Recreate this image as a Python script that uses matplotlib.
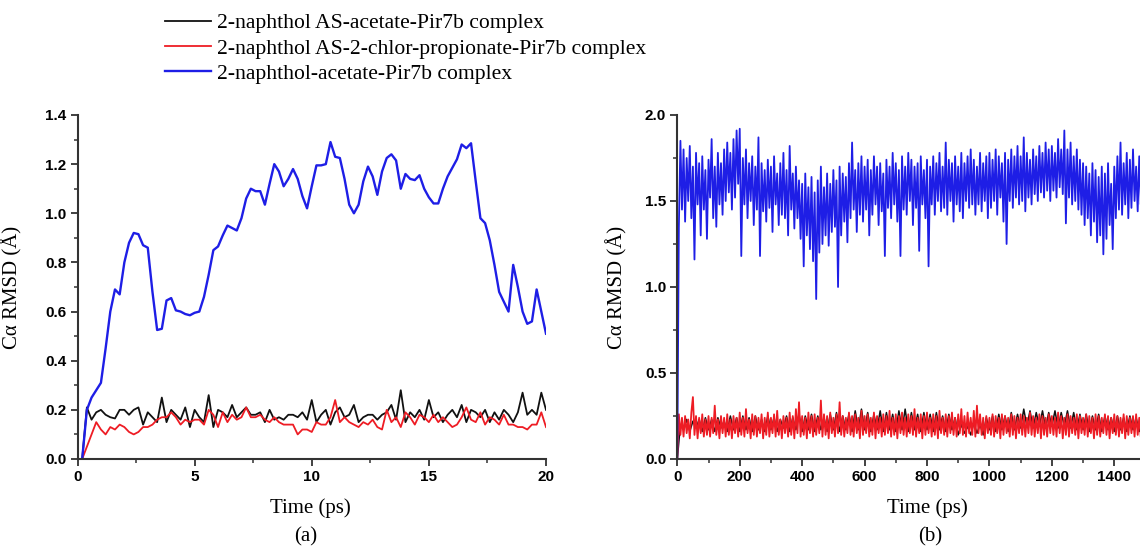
import numpy as np
import matplotlib
matplotlib.use("Agg")
import matplotlib.pyplot as plt
from matplotlib.ticker import MultipleLocator

# ---------------- data ----------------
labels = ["2-naphthol AS-acetate-Pir7b complex",
          "2-naphthol AS-2-chlor-propionate-Pir7b complex",
          "2-naphthol-acetate-Pir7b complex"]

# panel (a): time in ps, 0.2 ps sampling
time_a = np.round(np.arange(1, 101) * 0.2, 2)

black_a = [0.00, 0.21, 0.16, 0.19, 0.20, 0.18, 0.17, 0.165, 0.20, 0.20,
           0.18, 0.20, 0.21, 0.14, 0.19, 0.17, 0.15, 0.25, 0.15, 0.20,
           0.18, 0.16, 0.21, 0.13, 0.20, 0.17, 0.15, 0.26, 0.13, 0.20,
           0.19, 0.17, 0.22, 0.17, 0.19, 0.21, 0.18, 0.18, 0.19, 0.15,
           0.20, 0.16, 0.17, 0.16, 0.18, 0.18, 0.17, 0.19, 0.16, 0.24,
           0.15, 0.18, 0.20, 0.14, 0.19, 0.21, 0.17, 0.18, 0.22, 0.15,
           0.17, 0.18, 0.18, 0.16, 0.18, 0.19, 0.22, 0.16, 0.28, 0.15,
           0.19, 0.17, 0.20, 0.16, 0.24, 0.17, 0.19, 0.15, 0.18, 0.20,
           0.17, 0.22, 0.15, 0.20, 0.19, 0.17, 0.20, 0.15, 0.19, 0.16,
           0.20, 0.18, 0.15, 0.19, 0.27, 0.18, 0.20, 0.18, 0.27, 0.20]

red_a = [0.00, 0.05, 0.10, 0.15, 0.12, 0.10, 0.13, 0.12, 0.14, 0.13,
         0.11, 0.10, 0.11, 0.13, 0.13, 0.14, 0.16, 0.17, 0.17, 0.19,
         0.17, 0.14, 0.16, 0.15, 0.16, 0.16, 0.14, 0.20, 0.18, 0.13,
         0.19, 0.15, 0.18, 0.16, 0.17, 0.21, 0.17, 0.17, 0.18, 0.16,
         0.15, 0.17, 0.15, 0.14, 0.14, 0.14, 0.10, 0.12, 0.12, 0.11,
         0.15, 0.14, 0.14, 0.17, 0.24, 0.15, 0.17, 0.15, 0.14, 0.13,
         0.15, 0.14, 0.16, 0.13, 0.12, 0.20, 0.15, 0.17, 0.13, 0.19,
         0.17, 0.14, 0.18, 0.17, 0.15, 0.18, 0.15, 0.17, 0.15, 0.13,
         0.14, 0.17, 0.21, 0.16, 0.15, 0.19, 0.14, 0.17, 0.16, 0.14,
         0.18, 0.14, 0.14, 0.13, 0.13, 0.12, 0.14, 0.14, 0.19, 0.13]

blue_a = [0.00, 0.20, 0.25, 0.28, 0.31, 0.45, 0.60, 0.69, 0.67, 0.80,
          0.88, 0.92, 0.915, 0.87, 0.86, 0.68, 0.525, 0.53, 0.645, 0.655,
          0.605, 0.60, 0.59, 0.585, 0.595, 0.60, 0.66, 0.75, 0.85, 0.865,
          0.91, 0.95, 0.94, 0.93, 0.98, 1.06, 1.10, 1.09, 1.09, 1.035,
          1.12, 1.20, 1.17, 1.11, 1.14, 1.18, 1.14, 1.07, 1.02, 1.11,
          1.195, 1.195, 1.20, 1.29, 1.23, 1.225, 1.14, 1.035, 1.00, 1.035,
          1.13, 1.19, 1.15, 1.075, 1.17, 1.225, 1.24, 1.215, 1.10, 1.16,
          1.14, 1.135, 1.155, 1.10, 1.065, 1.04, 1.04, 1.10, 1.15, 1.185,
          1.22, 1.28, 1.265, 1.285, 1.13, 0.98, 0.96, 0.89, 0.79, 0.68,
          0.64, 0.60, 0.79, 0.70, 0.60, 0.55, 0.56, 0.69, 0.60, 0.51]

# panel (b): time in ps
time_b = np.arange(300) * 5.0
time_b_black = np.arange(150) * 10.0
ticks_b = [0, 200, 400, 600, 800, 1000, 1200, 1400]

blue_b = [
    0.00, 1.35, 1.85, 1.45, 1.80, 1.38, 1.75, 1.50, 1.82, 1.40,
    1.70, 1.16, 1.78, 1.48, 1.72, 1.30, 1.76, 1.45, 1.68, 1.28,
    1.74, 1.52, 1.86, 1.40, 1.70, 1.35, 1.78, 1.48, 1.72, 1.42,
    1.80, 1.50, 1.84, 1.55, 1.78, 1.45, 1.86, 1.52, 1.91, 1.60,
    1.92, 1.18, 1.75, 1.48, 1.80, 1.40, 1.72, 1.50, 1.76, 1.36,
    1.70, 1.45, 1.87, 1.18, 1.72, 1.44, 1.68, 1.38, 1.74, 1.46,
    1.70, 1.32, 1.76, 1.48, 1.66, 1.36, 1.72, 1.42, 1.78, 1.40,
    1.68, 1.30, 1.82, 1.45, 1.66, 1.34, 1.70, 1.40, 1.62, 1.28,
    1.60, 1.12, 1.66, 1.30, 1.58, 1.22, 1.64, 1.15, 1.55, 0.93,
    1.62, 1.20, 1.70, 1.25, 1.58, 1.30, 1.66, 1.24, 1.60, 1.32,
    1.68, 1.35, 1.62, 1.00, 1.70, 1.30, 1.66, 1.38, 1.64, 1.26,
    1.72, 1.40, 1.84, 1.45, 1.68, 1.32, 1.72, 1.42, 1.76, 1.38,
    1.70, 1.45, 1.74, 1.30, 1.68, 1.42, 1.76, 1.48, 1.70, 1.36,
    1.72, 1.44, 1.66, 1.18, 1.74, 1.46, 1.70, 1.40, 1.78, 1.48,
    1.72, 1.38, 1.68, 1.18, 1.76, 1.45, 1.70, 1.42, 1.78, 1.50,
    1.74, 1.36, 1.70, 1.46, 1.72, 1.21, 1.76, 1.48, 1.68, 1.40,
    1.74, 1.12, 1.70, 1.48, 1.76, 1.42, 1.72, 1.50, 1.78, 1.44,
    1.70, 1.46, 1.84, 1.42, 1.74, 1.50, 1.72, 1.38, 1.76, 1.48,
    1.70, 1.44, 1.78, 1.40, 1.72, 1.50, 1.76, 1.46, 1.80, 1.48,
    1.74, 1.42, 1.70, 1.48, 1.78, 1.44, 1.72, 1.50, 1.76, 1.40,
    1.78, 1.46, 1.74, 1.50, 1.80, 1.42, 1.76, 1.52, 1.72, 1.38,
    1.78, 1.25, 1.74, 1.50, 1.80, 1.46, 1.76, 1.52, 1.82, 1.48,
    1.76, 1.50, 1.87, 1.44, 1.78, 1.52, 1.74, 1.48, 1.80, 1.54,
    1.76, 1.50, 1.82, 1.55, 1.78, 1.52, 1.84, 1.56, 1.80, 1.50,
    1.82, 1.56, 1.78, 1.52, 1.86, 1.58, 1.80, 1.54, 1.91, 1.37,
    1.80, 1.52, 1.84, 1.48, 1.76, 1.50, 1.80, 1.45, 1.74, 1.42,
    1.72, 1.36, 1.70, 1.40, 1.66, 1.30, 1.72, 1.38, 1.68, 1.26,
    1.64, 1.30, 1.70, 1.19, 1.66, 1.28, 1.72, 1.36, 1.60, 1.22,
    1.70, 1.40, 1.76, 1.45, 1.84, 1.42, 1.72, 1.48, 1.78, 1.40,
    1.74, 1.46, 1.80, 1.50, 1.70, 1.44, 1.76, 1.48, 1.72, 1.46]

red_b = [
    0.00, 0.26, 0.14, 0.24, 0.13, 0.25, 0.15, 0.23, 0.12, 0.27,
    0.36, 0.14, 0.25, 0.12, 0.24, 0.15, 0.26, 0.13, 0.23, 0.14,
    0.25, 0.13, 0.24, 0.15, 0.31, 0.14, 0.23, 0.12, 0.25, 0.15,
    0.24, 0.13, 0.26, 0.14, 0.23, 0.12, 0.25, 0.15, 0.24, 0.13,
    0.27, 0.14, 0.24, 0.13, 0.29, 0.15, 0.23, 0.12, 0.26, 0.14,
    0.25, 0.13, 0.24, 0.15, 0.26, 0.12, 0.24, 0.14, 0.27, 0.13,
    0.24, 0.15, 0.26, 0.13, 0.28, 0.14, 0.23, 0.12, 0.25, 0.15,
    0.24, 0.13, 0.27, 0.14, 0.25, 0.12, 0.29, 0.15, 0.33, 0.13,
    0.25, 0.14, 0.24, 0.12, 0.27, 0.15, 0.25, 0.13, 0.26, 0.14,
    0.24, 0.15, 0.34, 0.13, 0.26, 0.14, 0.25, 0.12, 0.27, 0.15,
    0.24, 0.13, 0.26, 0.15, 0.33, 0.14, 0.25, 0.13, 0.24, 0.15,
    0.27, 0.14, 0.25, 0.13, 0.26, 0.15, 0.24, 0.12, 0.28, 0.14,
    0.25, 0.15, 0.26, 0.13, 0.24, 0.14, 0.27, 0.12, 0.25, 0.15,
    0.24, 0.13, 0.26, 0.14, 0.25, 0.15, 0.28, 0.13, 0.24, 0.14,
    0.26, 0.12, 0.25, 0.15, 0.27, 0.14, 0.24, 0.13, 0.26, 0.15,
    0.25, 0.14, 0.29, 0.13, 0.24, 0.15, 0.26, 0.12, 0.25, 0.14,
    0.27, 0.15, 0.24, 0.13, 0.26, 0.14, 0.25, 0.12, 0.28, 0.15,
    0.24, 0.14, 0.26, 0.13, 0.25, 0.15, 0.27, 0.14, 0.24, 0.13,
    0.26, 0.15, 0.29, 0.14, 0.25, 0.13, 0.27, 0.15, 0.24, 0.14,
    0.28, 0.13, 0.31, 0.15, 0.26, 0.14, 0.24, 0.12, 0.25, 0.15,
    0.24, 0.14, 0.26, 0.13, 0.25, 0.15, 0.24, 0.12, 0.26, 0.14,
    0.25, 0.15, 0.24, 0.13, 0.26, 0.14, 0.25, 0.12, 0.24, 0.15,
    0.26, 0.14, 0.25, 0.13, 0.24, 0.15, 0.27, 0.14, 0.25, 0.13,
    0.24, 0.15, 0.26, 0.12, 0.25, 0.14, 0.24, 0.13, 0.26, 0.15,
    0.25, 0.14, 0.24, 0.13, 0.27, 0.15, 0.25, 0.12, 0.24, 0.14,
    0.26, 0.13, 0.25, 0.15, 0.24, 0.14, 0.26, 0.12, 0.25, 0.15,
    0.24, 0.14, 0.26, 0.13, 0.25, 0.15, 0.24, 0.12, 0.26, 0.14,
    0.25, 0.13, 0.24, 0.15, 0.26, 0.14, 0.25, 0.12, 0.24, 0.15,
    0.26, 0.14, 0.25, 0.13, 0.24, 0.15, 0.26, 0.12, 0.25, 0.14,
    0.24, 0.15, 0.25, 0.13, 0.26, 0.14, 0.24, 0.13, 0.25, 0.14]

black_b = [
    0.00, 0.20, 0.17, 0.23, 0.16, 0.22, 0.18, 0.23, 0.16, 0.24,
    0.17, 0.23, 0.16, 0.24, 0.18, 0.22, 0.16, 0.25, 0.17, 0.24,
    0.16, 0.25, 0.17, 0.24, 0.16, 0.25, 0.17, 0.23, 0.16, 0.25,
    0.17, 0.24, 0.16, 0.23, 0.18, 0.25, 0.16, 0.24, 0.17, 0.26,
    0.16, 0.25, 0.17, 0.26, 0.16, 0.25, 0.17, 0.24, 0.16, 0.26,
    0.17, 0.27, 0.16, 0.25, 0.17, 0.26, 0.16, 0.28, 0.17, 0.29,
    0.17, 0.27, 0.16, 0.26, 0.17, 0.28, 0.16, 0.27, 0.17, 0.26,
    0.16, 0.28, 0.17, 0.29, 0.16, 0.27, 0.17, 0.26, 0.16, 0.27,
    0.17, 0.26, 0.16, 0.27, 0.17, 0.25, 0.16, 0.26, 0.17, 0.24,
    0.14, 0.20, 0.15, 0.19, 0.14, 0.21, 0.15, 0.20, 0.14, 0.24,
    0.17, 0.25, 0.16, 0.26, 0.17, 0.25, 0.16, 0.27, 0.17, 0.26,
    0.18, 0.29, 0.19, 0.28, 0.18, 0.27, 0.19, 0.28, 0.18, 0.27,
    0.19, 0.28, 0.18, 0.27, 0.19, 0.28, 0.18, 0.27, 0.17, 0.26,
    0.17, 0.26, 0.16, 0.25, 0.17, 0.26, 0.16, 0.25, 0.17, 0.24,
    0.16, 0.25, 0.17, 0.24, 0.16, 0.25, 0.17, 0.24, 0.16, 0.25]

# ---------------- style ----------------
C_BLACK = "#111111"
C_RED = "#ee1c24"
C_BLUE = "#1e1ee6"
SERIF = "Liberation Serif"
SANS = "Liberation Sans"
SPINE = "#333333"

fig = plt.figure(figsize=(11.4, 5.47), dpi=100)
ax_a = fig.add_axes([77.5 / 1140, 88 / 547, 468.5 / 1140, 344 / 547])
ax_b = fig.add_axes([677.3 / 1140, 88 / 547, 499.4 / 1140, 344 / 547])


def style(ax):
    for s in ("top", "right"):
        ax.spines[s].set_visible(False)
    for s in ("left", "bottom"):
        ax.spines[s].set_color(SPINE)
        ax.spines[s].set_linewidth(1.5)
    ax.tick_params(which="major", direction="out", length=5, width=1.3,
                   color=SPINE, pad=3)
    ax.tick_params(which="minor", direction="out", length=3, width=1.1,
                   color=SPINE)
    for lab in ax.get_xticklabels() + ax.get_yticklabels():
        lab.set_fontfamily(SANS)
        lab.set_fontweight("bold")
        lab.set_fontsize(11)
    ax.set_ylabel("Cα RMSD (Å)", family=SERIF, fontsize=15)
    ax.set_xlabel("Time (ps)", family=SERIF, fontsize=15)


# panel (a)
la, = ax_a.plot(time_a, black_a, color=C_BLACK, lw=1.3)
lr, = ax_a.plot(time_a, red_a, color=C_RED, lw=1.3)
lb, = ax_a.plot(time_a, blue_a, color=C_BLUE, lw=1.7)
ax_a.set_xlim(0, 20)
ax_a.set_ylim(0, 1.4)
ax_a.xaxis.set_major_locator(MultipleLocator(5))
ax_a.xaxis.set_minor_locator(MultipleLocator(2.5))
ax_a.set_yticks(np.round(np.arange(0, 1.41, 0.2), 1))
ax_a.set_yticklabels([f"{v:.1f}" for v in np.arange(0, 1.41, 0.2)])
ax_a.yaxis.set_minor_locator(MultipleLocator(0.1))
style(ax_a)
ax_a.yaxis.set_label_coords((22 - 77.5) / 468.5, 0.5)
ax_a.xaxis.set_label_coords(0.497, -0.113)
ax_a.text(0.488, -0.198, "(a)", transform=ax_a.transAxes, ha="center",
          va="top", family=SERIF, fontsize=15)

# panel (b)
ax_b.plot(time_b_black, black_b, color=C_BLACK, lw=1.1)
ax_b.plot(time_b, red_b, color=C_RED, lw=1.3)
ax_b.plot(time_b, blue_b, color=C_BLUE, lw=1.3)
ax_b.set_xlim(0, 1600)
ax_b.set_ylim(0, 2.0)
ax_b.set_xticks(ticks_b)
ax_b.set_xticklabels([str(t) for t in ticks_b])
ax_b.xaxis.set_minor_locator(MultipleLocator(100))
ax_b.set_yticks([0, 0.5, 1.0, 1.5, 2.0])
ax_b.set_yticklabels(["0.0", "0.5", "1.0", "1.5", "2.0"])
ax_b.yaxis.set_minor_locator(MultipleLocator(0.25))
style(ax_b)
ax_b.yaxis.set_label_coords((627 - 677.3) / 499.4, 0.5)
ax_b.xaxis.set_label_coords(0.5, -0.113)
ax_b.text(0.506, -0.198, "(b)", transform=ax_b.transAxes, ha="center",
          va="top", family=SERIF, fontsize=15)

# legend
fig.legend([la, lr, lb], labels, loc="upper left",
           bbox_to_anchor=(165 / 1140, 1 - 13 / 547), frameon=False,
           prop={"family": SERIF, "size": 15.6}, handlelength=2.14,
           handletextpad=0.28, labelspacing=0.24, borderpad=0,
           borderaxespad=0)

fig.savefig("out.png", dpi=100)
